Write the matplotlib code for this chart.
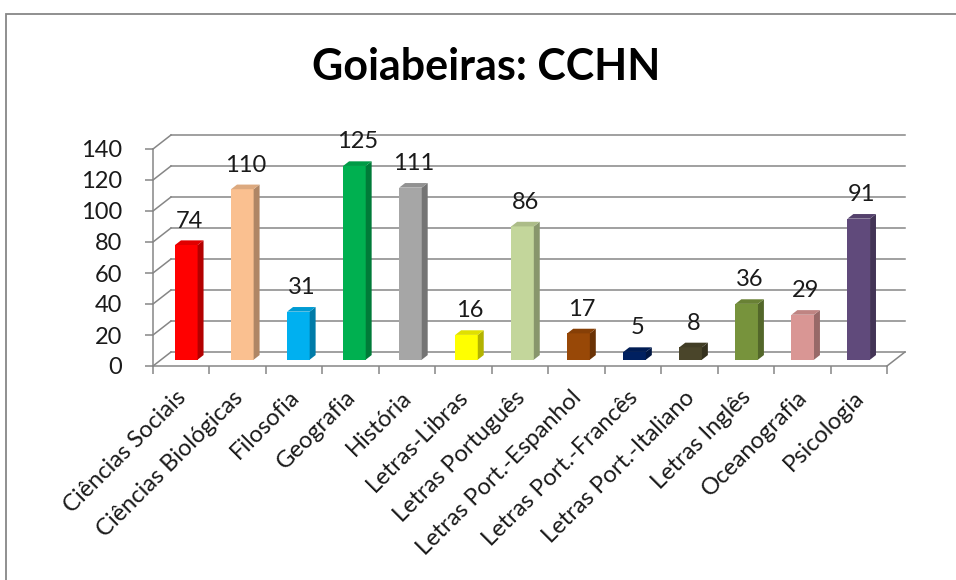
import numpy as np
import matplotlib.pyplot as plt
import matplotlib.transforms as mtransforms
from matplotlib.patches import Polygon, Rectangle
from matplotlib.colors import to_rgb

plt.rcParams['font.family'] = ['Lato', 'DejaVu Sans']

categories = ['Ciências Sociais', 'Ciências Biológicas', 'Filosofia', 'Geografia',
              'História', 'Letras-Libras', 'Letras Português', 'Letras Port.-Espanhol',
              'Letras Port.-Francês', 'Letras Port.-Italiano', 'Letras Inglês',
              'Oceanografia', 'Psicologia']
values = [74, 110, 31, 125, 111, 16, 86, 17, 5, 8, 36, 29, 91]
colors = ['#FF0000', '#FAC090', '#00B0F0', '#00B050', '#A6A6A6', '#FFFF00',
          '#C3D69B', '#984807', '#002060', '#4A452A', '#77933C', '#D99694', '#604A7B']
yticks = [0, 20, 40, 60, 80, 100, 120, 140]
title = 'Goiabeiras: CCHN'

W, H = 956, 580
fig = plt.figure(figsize=(W / 100, H / 100), dpi=100)

# frame of the chart object
fig.add_artist(Rectangle((6 / W, -0.1), 1.2, (H - 14) / H + 0.1, transform=fig.transFigure,
                         fill=False, edgecolor='#878787', linewidth=1.3))

# axes placed in pixels: x unit = one category, y unit = value
px_x = 56.46
px_y = 1.55
xmin, xmax = -0.5, 12.9
ymax = 150
ax = fig.add_axes([153 / W, (H - 366) / H, (xmax - xmin) * px_x / W, ymax * px_y / H])
ax.set_xlim(xmin, xmax)
ax.set_ylim(0, ymax)

ddx = 18 / px_x   # depth offset of the back wall
ddy = 14 / px_y
grid_c = '#868686'
lw = 1.1
n = len(categories)
left, right = -0.5, n - 0.5

for v in yticks:
    ax.plot([left + ddx, right + ddx], [v + ddy, v + ddy], color=grid_c, lw=lw, zorder=1, clip_on=False)
    ax.plot([left, left + ddx], [v, v + ddy], color=grid_c, lw=lw, zorder=1, clip_on=False)
ax.plot([right, right + ddx], [0, ddy], color=grid_c, lw=lw, zorder=1, clip_on=False)

# bars
w = 0.2
f0 = 0.45
d = 0.33
b0 = f0 * ddy
for i, (v, col) in enumerate(zip(values, colors)):
    c = i + 0.09 - 0.0075 * i
    rgb = np.array(to_rgb(col))
    side = rgb * 0.7
    top = rgb * 0.88
    front = [(c - w, b0), (c + w, b0), (c + w, b0 + v), (c - w, b0 + v)]
    sidep = [(c + w, b0), (c + w + d * ddx, b0 + d * ddy),
             (c + w + d * ddx, b0 + v + d * ddy), (c + w, b0 + v)]
    topp = [(c - w, b0 + v), (c + w, b0 + v), (c + w + d * ddx, b0 + v + d * ddy),
            (c - w + d * ddx, b0 + v + d * ddy)]
    for pts, fc in [(front, rgb), (sidep, side), (topp, top)]:
        ax.add_patch(Polygon(pts, closed=True, facecolor=fc, edgecolor='none', zorder=3, clip_on=False))
    ax.annotate(str(v), xy=(c + d * ddx / 2, b0 + v), xytext=(0, 24), textcoords='offset pixels',
                ha='center', va='center', fontsize=17, color='#1a1a1a', zorder=4)

# axes styling
for s in ['top', 'right']:
    ax.spines[s].set_visible(False)
for s in ['left', 'bottom']:
    ax.spines[s].set_color(grid_c)
    ax.spines[s].set_linewidth(lw)
ax.spines['bottom'].set_bounds(left, right)
ax.spines['left'].set_bounds(0, 140)

ax.set_yticks(yticks)
ax.set_yticklabels([str(t) for t in yticks], fontsize=17, color='#1a1a1a')
ax.tick_params(axis='y', length=6, width=lw, color=grid_c, pad=16)

ax.set_xticks(np.arange(n))
ax.set_xticks(np.arange(n + 1) - 0.5, minor=True)
ax.tick_params(axis='x', which='minor', length=6, width=lw, color=grid_c)
ax.tick_params(axis='x', which='major', length=0, pad=12)
ax.set_xticklabels(categories, rotation=45, ha='right', va='top', rotation_mode='anchor',
                   fontsize=17, color='#1a1a1a')
shift = mtransforms.ScaledTranslation(-6 / 100, -4 / 100, fig.dpi_scale_trans)
for lab in ax.get_xticklabels():
    lab.set_transform(lab.get_transform() + shift)
ax.patch.set_alpha(0)

fig.text(486 / W, 1 - 80 / H, title, ha='center', va='baseline', fontsize=31,
         fontweight='bold', color='#000000')

fig.savefig('out.png', dpi=100)
